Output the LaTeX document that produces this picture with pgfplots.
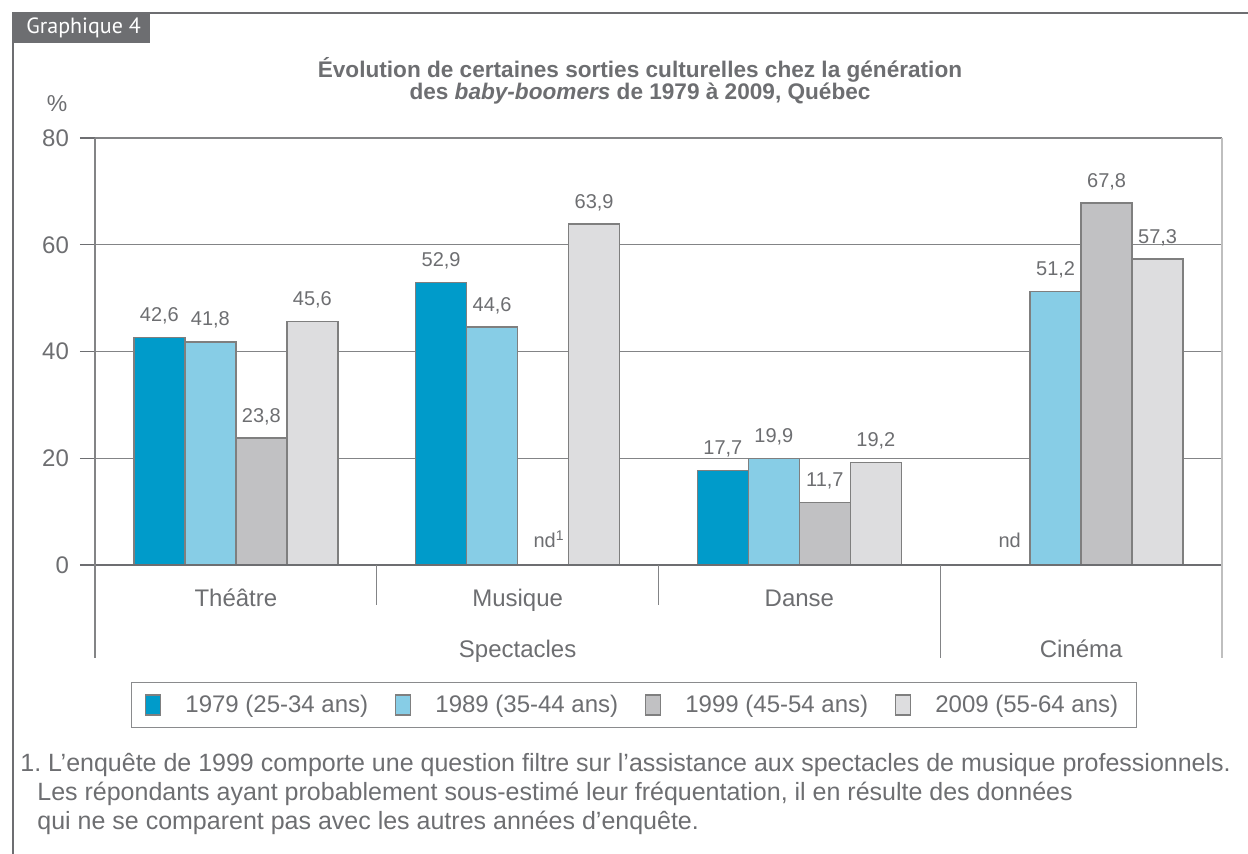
\documentclass[border=0pt]{standalone}
\usepackage{fontspec}
\setmainfont{Liberation Sans}
\newfontfamily\grfont{PT Sans}
\usepackage{pgfplots}
\pgfplotsset{compat=1.18}
\definecolor{txt}{HTML}{6D6E71}
\definecolor{edge}{HTML}{7F7F7F}
\definecolor{cA}{HTML}{009BCA}
\definecolor{cB}{HTML}{87CDE6}
\definecolor{cC}{HTML}{C1C1C3}
\definecolor{cD}{HTML}{DDDDDF}
\pgfplotsset{
  mybar/.style={ybar, bar width=25.5pt, draw=edge, line width=0.7pt, bar shift=#1,
    every node near coord/.append style={xshift=#1},
    legend image code/.code={\draw[##1, line width=0.6pt] (0pt,-5pt) rectangle (7.5pt,5pt);}},
}
\frenchspacing
\begin{document}
\begin{tikzpicture}
\path[use as bounding box] (0pt,0pt) rectangle (624pt,-427pt);
\draw[txt, line width=1pt] (6.5pt,-427pt) -- (6.5pt,-6.5pt) -- (624pt,-6.5pt);
\fill[txt] (6pt,-6pt) rectangle (75pt,-21.5pt);
\node[white, font=\grfont\fontsize{11}{13}\selectfont, anchor=west, inner sep=0pt] at (13pt,-14pt) {Graphique 4};
\node[align=center, text=txt, font=\bfseries\fontsize{11.3}{11.2}\selectfont] at (320pt,-40.5pt)
  {Évolution de certaines sorties culturelles chez la génération\\des \textit{baby-boomers} de 1979 à 2009, Québec};
\node[text=txt, font=\fontsize{11.5}{13}\selectfont] at (28.5pt,-52pt) {\%};
\begin{axis}[
  at={(47.5pt,-282.5pt)}, anchor=south west,
  scale only axis, width=563.5pt, height=213.5pt,
  xmin=-0.5, xmax=3.5, ymin=0, ymax=80,
  clip=false,
  xtick=\empty,
  ytick={0,20,40,60,80},
  ytick pos=left,
  tick align=outside,
  major tick length=7.5pt,
  ytick style={draw=txt, line width=0.6pt},
  axis line style={draw=none},
  ymajorgrids,
  grid style={draw=txt!85, line width=0.6pt},
  yticklabel style={font=\fontsize{12}{14}\selectfont, text=txt, /pgf/number format/assume math mode=true, xshift=-2pt},
  nodes near coords={\pgfmathprintnumber[use comma,fixed,fixed zerofill,precision=1,assume math mode=true]{\pgfplotspointmeta}},
  every node near coord/.append style={font=\fontsize{10}{12}\selectfont, text=txt, yshift=3pt},
  legend columns=4,
  legend style={at={(0.478,-0.328)}, anchor=center, draw=txt!80, line width=0.6pt,
    font=\fontsize{12}{14}\selectfont, text=txt, inner xsep=7pt, inner ysep=4pt,
    /tikz/every even column/.append style={column sep=11.5pt},
    /tikz/every odd column/.append style={column sep=10pt}},
]
\addplot[mybar=-38.25pt, fill=cA] coordinates {(0,42.6) (1,52.9) (2,17.7)};
\addlegendentry{1979 (25-34 ans)}
\addplot[mybar=-12.75pt, fill=cB] coordinates {(0,41.8) (1,44.6) (2,19.9) (3,51.2)};
\addlegendentry{1989 (35-44 ans)}
\addplot[mybar=12.75pt, fill=cC] coordinates {(0,23.8) (2,11.7) (3,67.8)};
\addlegendentry{1999 (45-54 ans)}
\addplot[mybar=38.25pt, fill=cD] coordinates {(0,45.6) (1,63.9) (2,19.2) (3,57.3)};
\addlegendentry{2009 (55-64 ans)}
% nd labels
\node[text=txt, font=\fontsize{10}{12}\selectfont, anchor=south, inner sep=0pt] at (axis cs:1.0905,0) [yshift=8.5pt, xshift=3pt] {nd\textsuperscript{1}};
\node[text=txt, font=\fontsize{10}{12}\selectfont, anchor=south, inner sep=0pt] at (axis cs:2.7285,0) [yshift=8.5pt, xshift=2.5pt] {nd};
% axis lines
\draw[txt, line width=0.8pt] (axis cs:-0.5,0) -- (axis cs:3.5,0);
\draw[txt!85, line width=0.6pt] (axis cs:-0.5,80) -- (axis cs:-0.5,0) -- ++(0pt,-46.5pt);
\draw[txt!85, line width=0.6pt] (axis cs:0.5,0) -- ++(0pt,-20pt);
\draw[txt!85, line width=0.6pt] (axis cs:1.5,0) -- ++(0pt,-20pt);
\draw[txt!85, line width=0.6pt] (axis cs:2.5,0) -- ++(0pt,-46.5pt);
\draw[gray!50, line width=1.3pt] (axis cs:3.5,80) -- (axis cs:3.5,0) -- ++(0pt,-46.5pt);
% category labels
\node[text=txt, font=\fontsize{12}{14}\selectfont, anchor=base] at (axis cs:0,0) [yshift=-20.5pt] {Théâtre};
\node[text=txt, font=\fontsize{12}{14}\selectfont, anchor=base] at (axis cs:1,0) [yshift=-20.5pt] {Musique};
\node[text=txt, font=\fontsize{12}{14}\selectfont, anchor=base] at (axis cs:2,0) [yshift=-20.5pt] {Danse};
\node[text=txt, font=\fontsize{12}{14}\selectfont, anchor=base] at (axis cs:1,0) [yshift=-46pt] {Spectacles};
\node[text=txt, font=\fontsize{12}{14}\selectfont, anchor=base] at (axis cs:3,0) [yshift=-46pt] {Cinéma};
\end{axis}
\begin{scope}[every node/.style={text=txt, font=\fontsize{12.5}{14}\selectfont, anchor=base west, inner sep=0pt}]
\node at (10pt,-386pt) {1. L’enquête de 1999 comporte une question filtre sur l’assistance aux spectacles de musique professionnels.};
\node at (18.5pt,-400.5pt) {Les répondants ayant probablement sous-estimé leur fréquentation, il en résulte des données};
\node at (18.5pt,-415pt) {qui ne se comparent pas avec les autres années d’enquête.};
\end{scope}
\end{tikzpicture}
\end{document}
